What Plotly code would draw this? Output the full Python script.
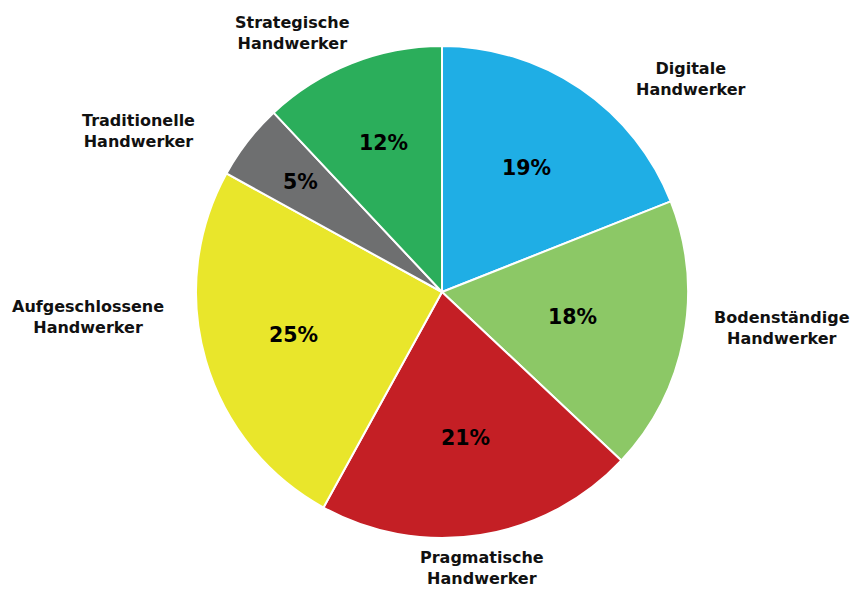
import math
import plotly.graph_objects as go

# Handwerker-Typen und ihre Anteile (im Uhrzeigersinn ab 12 Uhr)
categories = [
    "Digitale Handwerker",
    "Bodenständige Handwerker",
    "Pragmatische Handwerker",
    "Aufgeschlossene Handwerker",
    "Traditionelle Handwerker",
    "Strategische Handwerker",
]
shares = [19, 18, 21, 25, 5, 12]
colors = ["#1FAEE5", "#8CC866", "#C41F25", "#E9E62B", "#6E6F70", "#2BAE5B"]

# Zweizeilige Beschriftungen außerhalb des Kreises
label_lines = [
    ("Digitale", "Handwerker"),
    ("Bodenständige", "Handwerker"),
    ("Pragmatische", "Handwerker"),
    ("Aufgeschlossene", "Handwerker"),
    ("Traditionelle", "Handwerker"),
    ("Strategische", "Handwerker"),
]
label_pos = [(691, 79), (782, 328), (482, 568), (88, 317), (138, 131), (292, 33)]
# Abstand der Prozentwerte vom Mittelpunkt (Anteil am Radius)
pct_radius = [0.61, 0.54, 0.60, 0.63, 0.73, 0.65]

W, H = 854, 592
cx, cy, r = 442, 292, 246

fig = go.Figure(
    go.Pie(
        labels=categories,
        values=shares,
        sort=False,
        direction="clockwise",
        rotation=0,
        marker=dict(colors=colors, line=dict(color="white", width=2)),
        textinfo="none",
        showlegend=False,
        hoverinfo="label+percent",
        domain=dict(x=[(cx - r) / W, (cx + r) / W], y=[1 - (cy + r) / H, 1 - (cy - r) / H]),
    )
)

# Prozentwerte in der Mitte jedes Segments
total = sum(shares)
cum = 0
for v, f in zip(shares, pct_radius):
    mid = (cum + v / 2) / total * 2 * math.pi
    cum += v
    px = cx + f * r * math.sin(mid)
    py = cy - f * r * math.cos(mid)
    fig.add_annotation(
        x=px / W, y=1 - py / H, xref="paper", yref="paper",
        text=f"<b>{v}%</b>", showarrow=False,
        font=dict(family="DejaVu Sans", size=20.5, color="black"),
        xanchor="center", yanchor="middle",
    )

for (l1, l2), (x, y) in zip(label_lines, label_pos):
    fig.add_annotation(
        x=x / W, y=1 - y / H, xref="paper", yref="paper",
        text=f"<b>{l1}<br>{l2}</b>", showarrow=False, align="center",
        font=dict(family="DejaVu Sans", size=16, color="#111111"),
        xanchor="center", yanchor="middle",
    )

fig.update_layout(
    width=W, height=H,
    margin=dict(l=0, r=0, t=0, b=0),
    paper_bgcolor="white", plot_bgcolor="white",
)

fig.write_html("out.html")
